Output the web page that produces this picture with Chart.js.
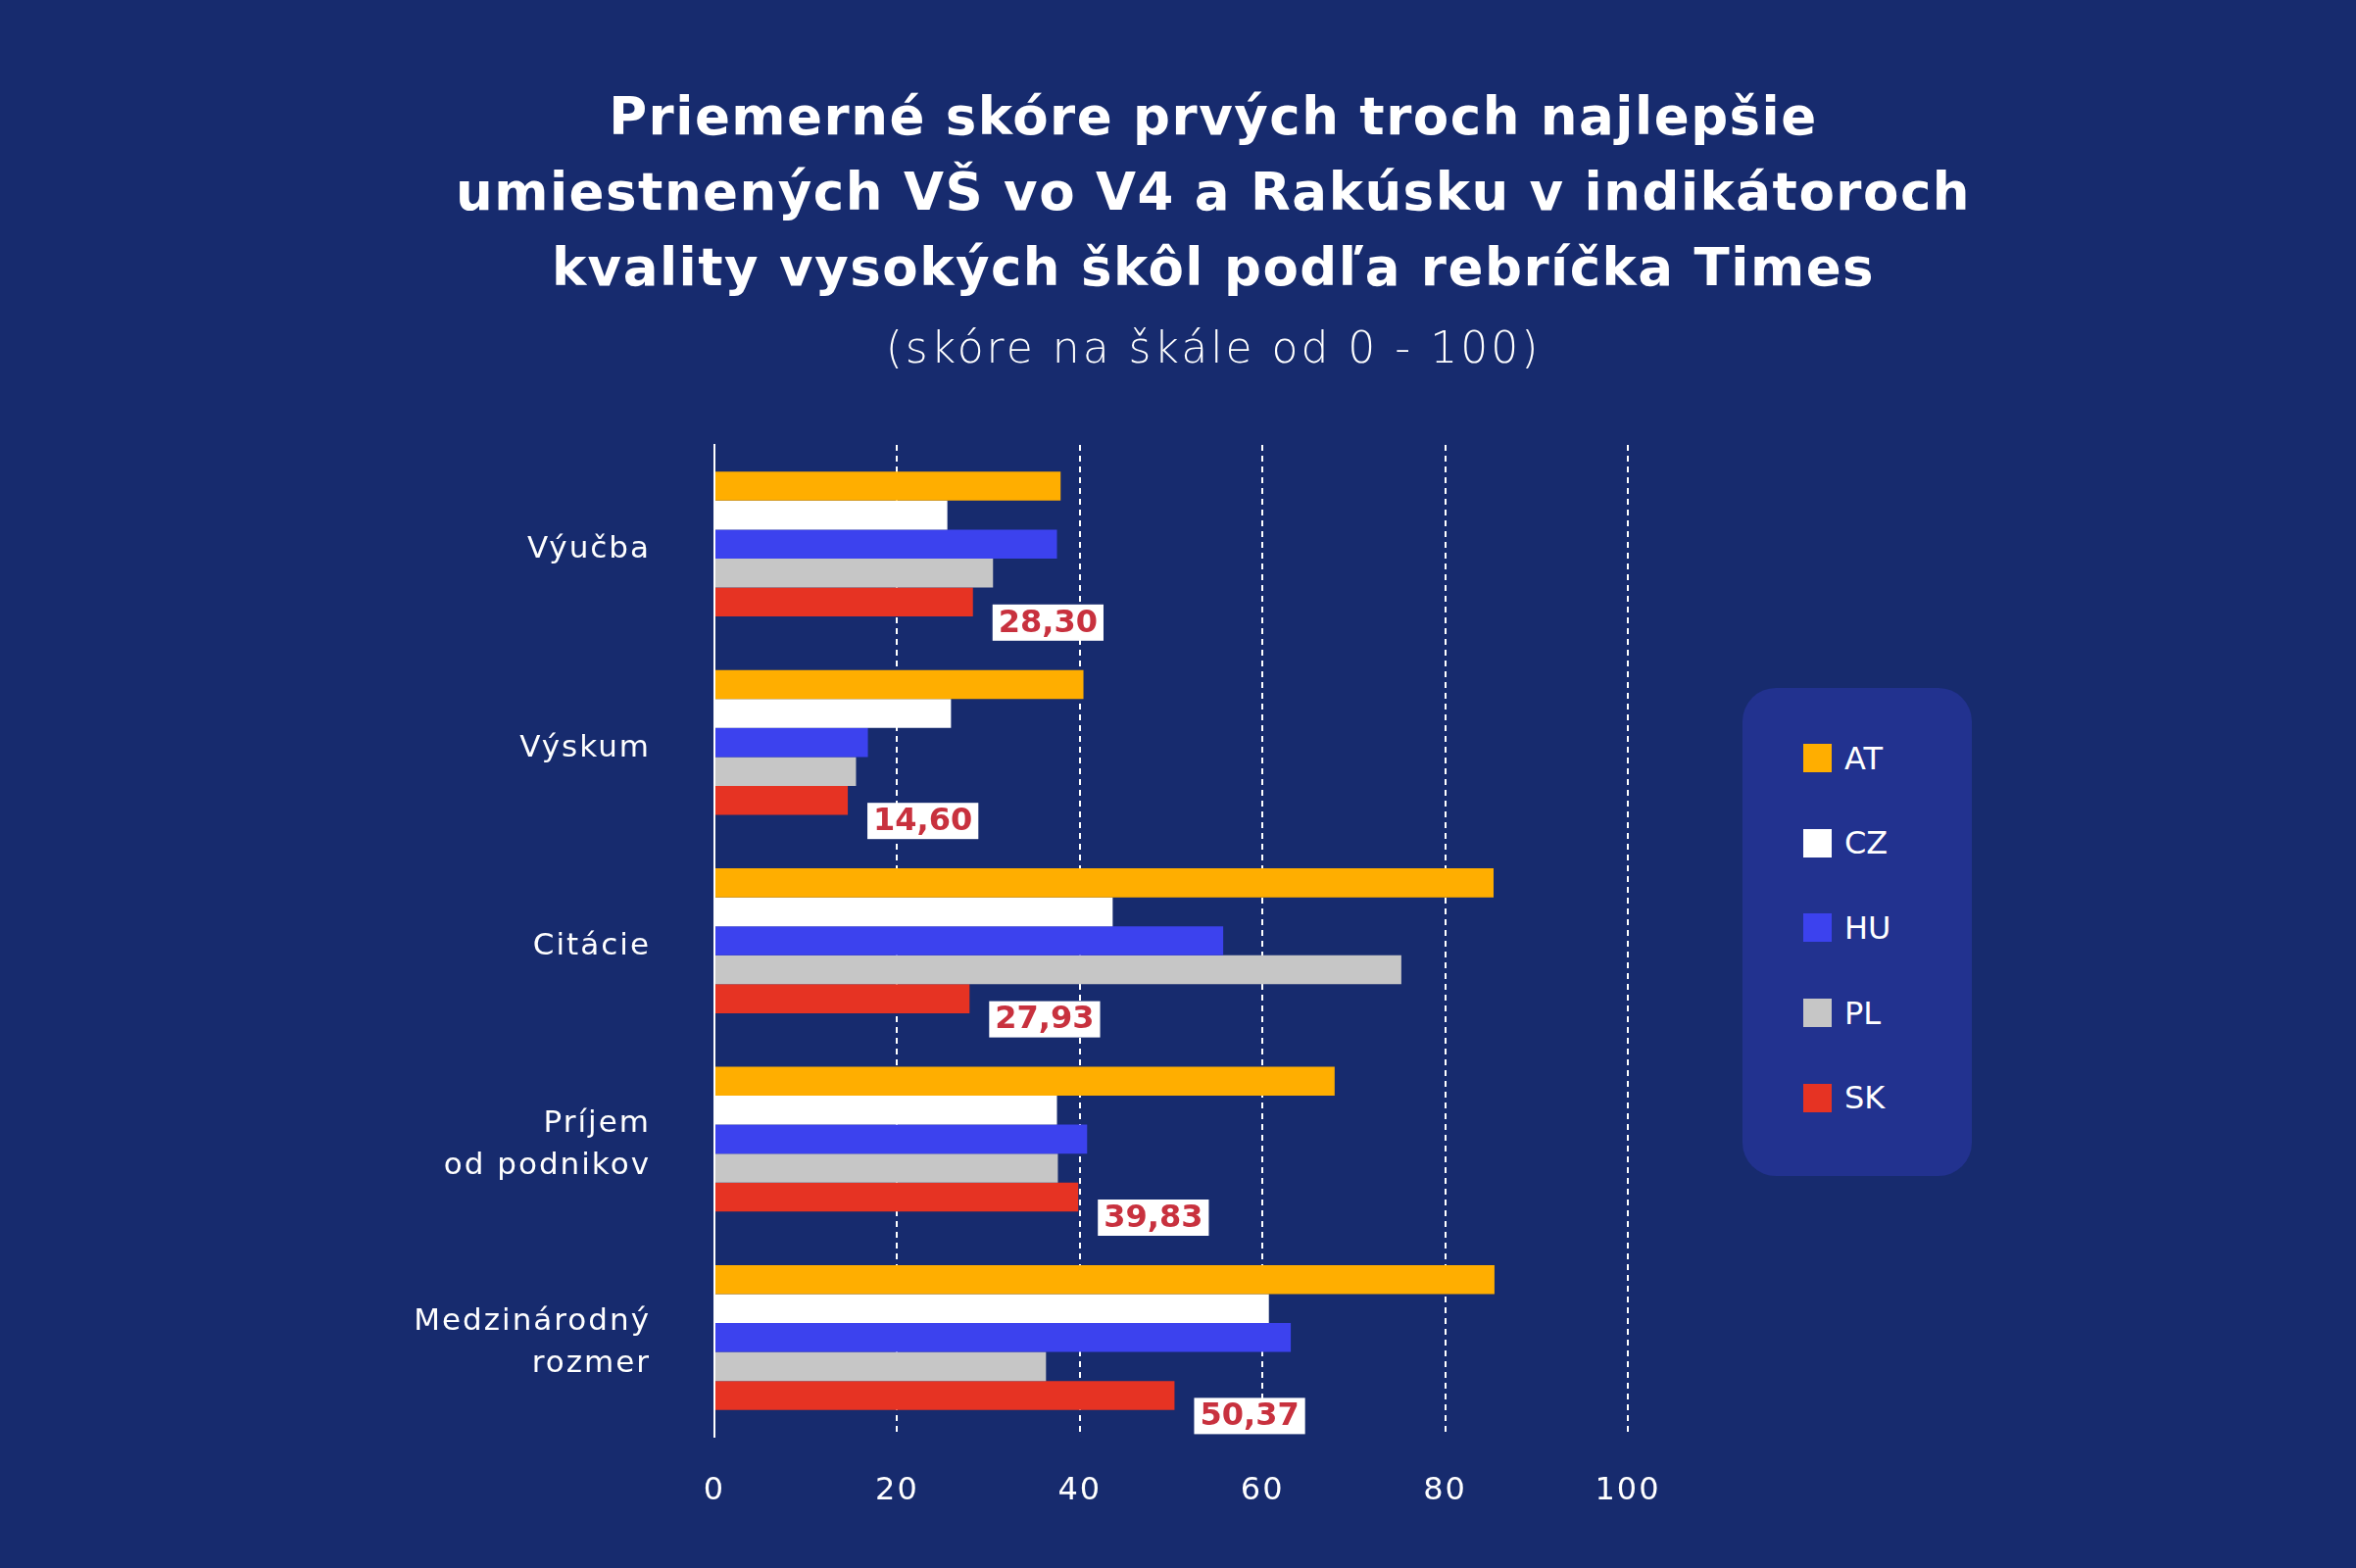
<!DOCTYPE html>
<html lang="sk">
<head>
<meta charset="utf-8">
<title>Priemerné skóre VŠ – Times</title>
<script src="https://cdn.jsdelivr.net/npm/chart.js"></script>
<style>
  body { margin: 0; background: #172b6e; }
  #wrap { position: relative; width: 2404px; height: 1600px; overflow: hidden; background: #172b6e; }
  #chart { position: absolute; left: 0; top: 0; }
  .head { position: absolute; left: 238px; width: 2000px; text-align: center; color: #fff; font-family: 'DejaVu Sans', sans-serif; }
  #title { top: 80px; font-size: 53px; font-weight: bold; line-height: 77px; letter-spacing: 1.5px; }
  #subtitle { top: 328px; font-size: 44px; font-weight: 200; line-height: 54px; letter-spacing: 3px; }
  #legend { position: absolute; left: 1778px; top: 702px; width: 234px; height: 498px; border-radius: 34px; background: #22328f; }
  #legend .item { position: absolute; left: 62px; height: 29px; display: flex; align-items: center; color: #fff; font: 32px 'DejaVu Sans', sans-serif; }
  #legend .box { width: 29px; height: 29px; margin-right: 13px; }
</style>
</head>
<body>
<div id="wrap">
  <canvas id="chart" width="2404" height="1600"></canvas>
  <div id="title" class="head">Priemerné skóre prvých troch najlepšie<br>umiestnených VŠ vo V4 a Rakúsku v indikátoroch<br>kvality vysokých škôl podľa rebríčka Times</div>
  <div id="subtitle" class="head">(skóre na škále od 0 - 100)</div>
  <div id="legend"></div>
</div>
<script>
const categories = [['Výučba'], ['Výskum'], ['Citácie'], ['Príjem', 'od podnikov'], ['Medzinárodný', 'rozmer']];
const countries = ['AT', 'CZ', 'HU', 'PL', 'SK'];
const barColors = ['#ffae00', '#ffffff', '#3c42ee', '#c6c6c6', '#e63323'];
const valuesAT = [37.9, 40.4, 85.3, 67.9, 85.4];
const valuesCZ = [25.5, 25.9, 43.6, 37.5, 60.7];
const valuesHU = [37.5, 16.8, 55.7, 40.8, 63.1];
const valuesPL = [30.5, 15.5, 75.2, 37.6, 36.3];
const valuesSK = [28.30, 14.60, 27.93, 39.83, 50.37];
const xTicks = [0, 20, 40, 60, 80, 100];

const series = [valuesAT, valuesCZ, valuesHU, valuesPL, valuesSK];

Chart.defaults.font.family = "'DejaVu Sans', sans-serif";
Chart.defaults.color = '#ffffff';

// a bit of letter spacing for the axis texts
const spacing = {
  id: 'spacing',
  beforeDraw(chart) { chart.ctx.letterSpacing = '2px'; },
  afterDraw(chart) { chart.ctx.letterSpacing = '0px'; }
};

// white value boxes next to the SK bars
const skLabels = {
  id: 'skLabels',
  afterDatasetsDraw(chart) {
    const ctx = chart.ctx;
    const meta = chart.getDatasetMeta(4);
    ctx.save();
    ctx.letterSpacing = '0px';
    ctx.font = "bold 32px 'DejaVu Sans'";
    ctx.textBaseline = 'middle';
    meta.data.forEach((bar, i) => {
      const text = valuesSK[i].toFixed(2).replace('.', ',');
      const w = ctx.measureText(text).width + 12;
      const x = bar.x + 20;
      const y = bar.y + 21;
      ctx.fillStyle = '#ffffff';
      ctx.fillRect(x, y - 18.5, w, 37);
      ctx.fillStyle = '#c8313e';
      ctx.fillText(text, x + 6, y + 1);
    });
    ctx.restore();
  }
};

const chart = new Chart('chart', {
  type: 'bar',
  data: {
    labels: categories,
    datasets: countries.map((c, i) => ({
      label: c,
      data: series[i],
      backgroundColor: barColors[i],
      borderWidth: 0,
      barPercentage: 1,
      categoryPercentage: 0.73
    }))
  },
  options: {
    indexAxis: 'y',
    responsive: false,
    animation: false,
    layout: { padding: { left: 0, top: 454, right: 743, bottom: 0 } },
    plugins: {
      legend: { display: false },
      tooltip: { enabled: false }
    },
    scales: {
      x: {
        min: 0,
        max: 100,
        afterBuildTicks: (scale) => { scale.ticks = xTicks.map(v => ({ value: v })); },
        afterFit: (scale) => { scale.height = 134; },
        grid: {
          color: (c) => (c.tick && c.tick.value === 0 ? 'rgba(0,0,0,0)' : '#ffffff'),
          lineWidth: 2,
          drawTicks: false
        },
        border: { display: false, dash: [6, 5] },
        ticks: { padding: 36, font: { size: 32 }, color: '#ffffff' }
      },
      y: {
        afterFit: (scale) => { scale.width = 729; },
        grid: { display: false, drawTicks: false },
        border: { display: true, color: '#ffffff', width: 2 },
        ticks: { padding: 65, labelOffset: 6, font: { size: 31, lineHeight: 1.38 }, color: '#ffffff' }
      }
    }
  },
  plugins: [spacing, skLabels]
});

// HTML legend built from the datasets
const legendEl = document.getElementById('legend');
chart.data.datasets.forEach((ds, i) => {
  const item = document.createElement('div');
  item.className = 'item';
  item.style.top = (57 + i * 86.7) + 'px';
  const box = document.createElement('span');
  box.className = 'box';
  box.style.background = ds.backgroundColor;
  const txt = document.createElement('span');
  txt.textContent = ds.label;
  item.appendChild(box);
  item.appendChild(txt);
  legendEl.appendChild(item);
});
</script>
</body>
</html>
